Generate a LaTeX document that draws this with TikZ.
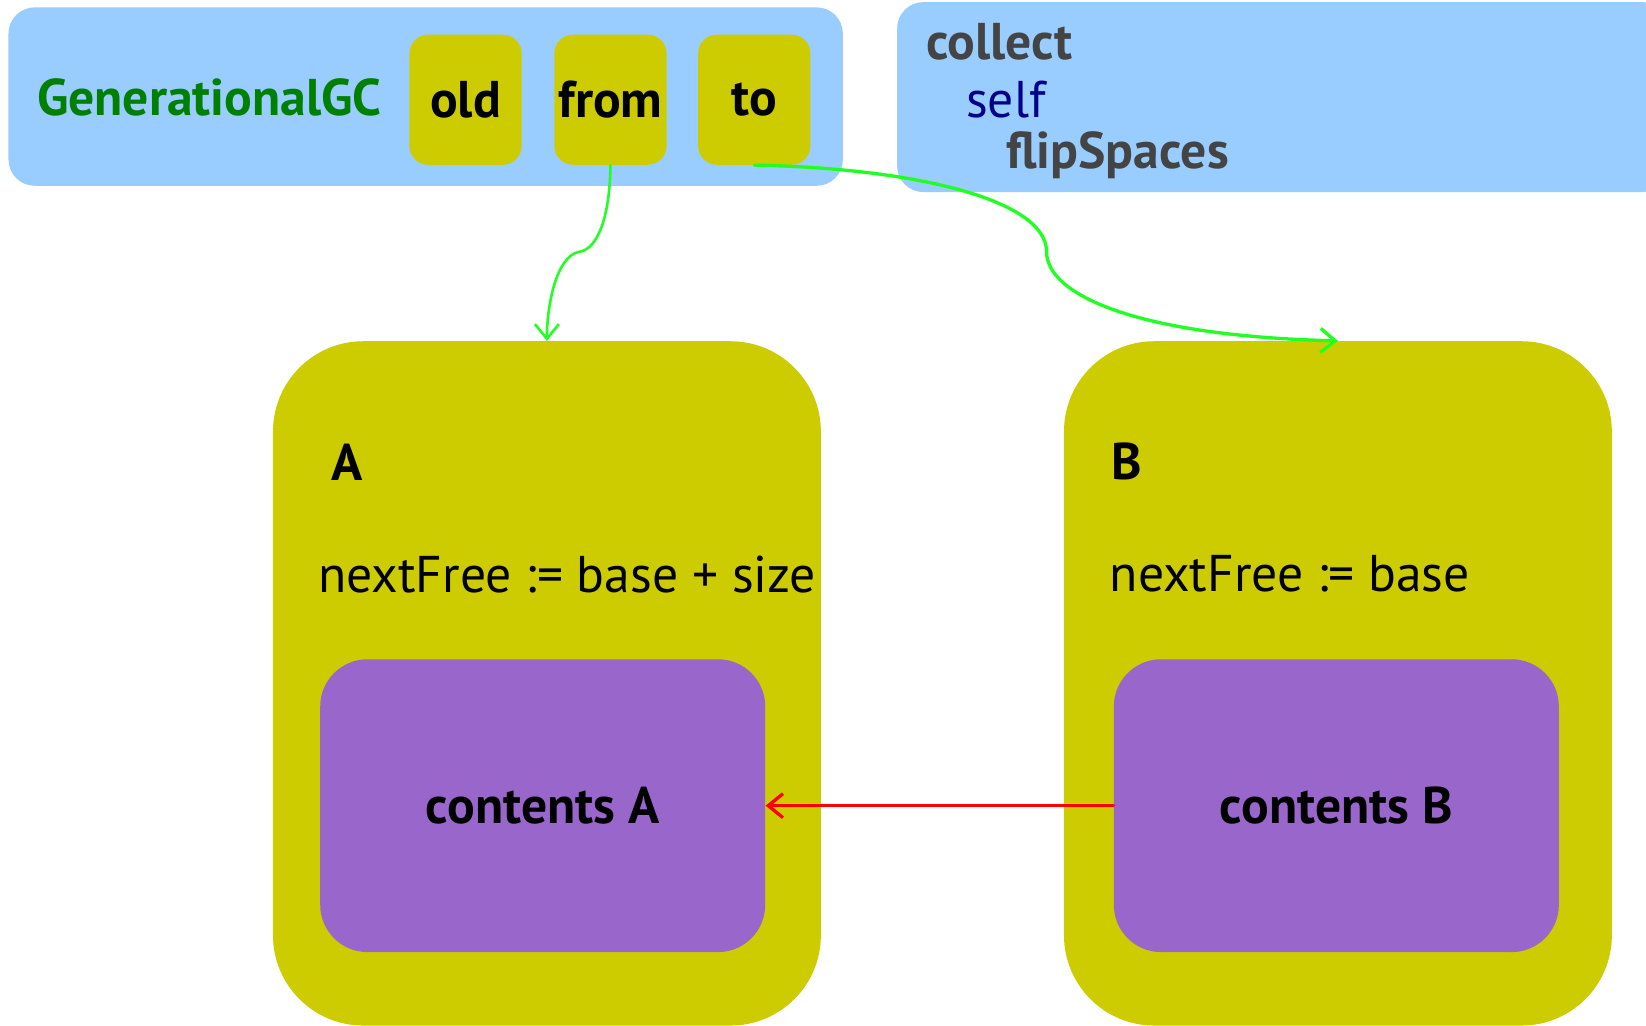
\documentclass[tikz,border=0pt]{standalone}
\usepackage{fontspec}
\setmainfont{PT Sans}
\usepackage{tikz}
\usetikzlibrary{arrows.meta,backgrounds}
\usepackage{xcolor}
\definecolor{panel}{HTML}{99CCFF}
\definecolor{olive}{HTML}{CCCC00}
\definecolor{lilac}{HTML}{9966CC}
\definecolor{ptr}{HTML}{22FF22}
\definecolor{gcgreen}{HTML}{008000}
\definecolor{codegray}{HTML}{444444}
\definecolor{codeblue}{HTML}{000088}

\newcommand{\bigtext}{\fontsize{28}{33}\selectfont}

\tikzset{
	panelbox/.style={fill=panel,rounded corners=0.5cm,draw=none,inner sep=0},
	slotbox/.style={fill=olive,rounded corners=0.36cm,draw=none,minimum width=2.14cm,minimum height=2.48cm,inner sep=0,font=\bigtext\bfseries},
	spacebox/.style={fill=olive,rounded corners=1.72cm,draw=none,minimum width=10.44cm,minimum height=13.04cm,inner sep=0},
	contentbox/.style={fill=lilac,rounded corners=0.9cm,draw=none,minimum width=8.48cm,minimum height=5.58cm,inner sep=0,font=\bigtext\bfseries},
	txt/.style={anchor=west,inner sep=0,font=\bigtext},
	boldtxt/.style={txt,font=\bigtext\bfseries},
	pointer/.style={draw=ptr,line cap=round,-{Straight Barb[length=8pt,width=13pt]}},
}

\begin{document}
\begin{tikzpicture}[x=0.02cm,y=-0.02cm,background rectangle/.style={fill=white},show background rectangle]
	\useasboundingbox (0,0) rectangle (1568,977);
	% the collector object and its slots
	\node [panelbox,minimum width=15.9cm,minimum height=3.4cm] (gc) at (405.5,92) {};
	\node [boldtxt,text=gcgreen] (gcname) at (35,93) {GenerationalGC};
	\node [slotbox] (old) at (443.5,95) {old};
	\node [slotbox] (from) at (581.5,95) {from};
	\node [slotbox] (to) at (718.5,95) {to};
	% code
	\node [panelbox,minimum width=14.7cm,minimum height=3.62cm] (code) at (1222,92.5) {};
	\node [boldtxt,text=codegray] (collect) at (882,40) {collect};
	\node [txt,text=codeblue] (self) at (920,95) {self};
	\node [boldtxt,text=codegray] (flip) at (958,148) {flipSpaces};
	% the two spaces
	\node [spacebox] (spaceA) at (521,651) {};
	\node [boldtxt] (nameA) at (315,440) {A};
	\node [txt] (freeA) at (303,547) {nextFree := base + size};
	\node [contentbox] (contentsA) at (517,767.5) {contents A};
	\node [spacebox] (spaceB) at (1274.5,651) {};
	\node [boldtxt] (nameB) at (1058,440) {B};
	\node [txt] (freeB) at (1057,547) {nextFree := base};
	\node [contentbox] (contentsB) at (1273,767.5) {contents B};
	% pointers
	\coordinate (bendA) at (551,240);
	\coordinate (bendB) at (997,240);
	\draw [pointer,line width=1.4pt] (from.south) .. controls (581,205) and (570,238) .. (bendA) .. controls (530,245) and (521,290) .. (spaceA.north);
	\draw [pointer,line width=1.8pt] (to.south) .. controls (870,160) and (997,190) .. (bendB) .. controls (997,280) and (1080,320) .. (spaceB.north);
	\draw [draw=red,line width=1.8pt,line cap=round,-{Straight Barb[length=8pt,width=13pt]}] (contentsB.west) -- (contentsA.east);
\end{tikzpicture}
\end{document}
